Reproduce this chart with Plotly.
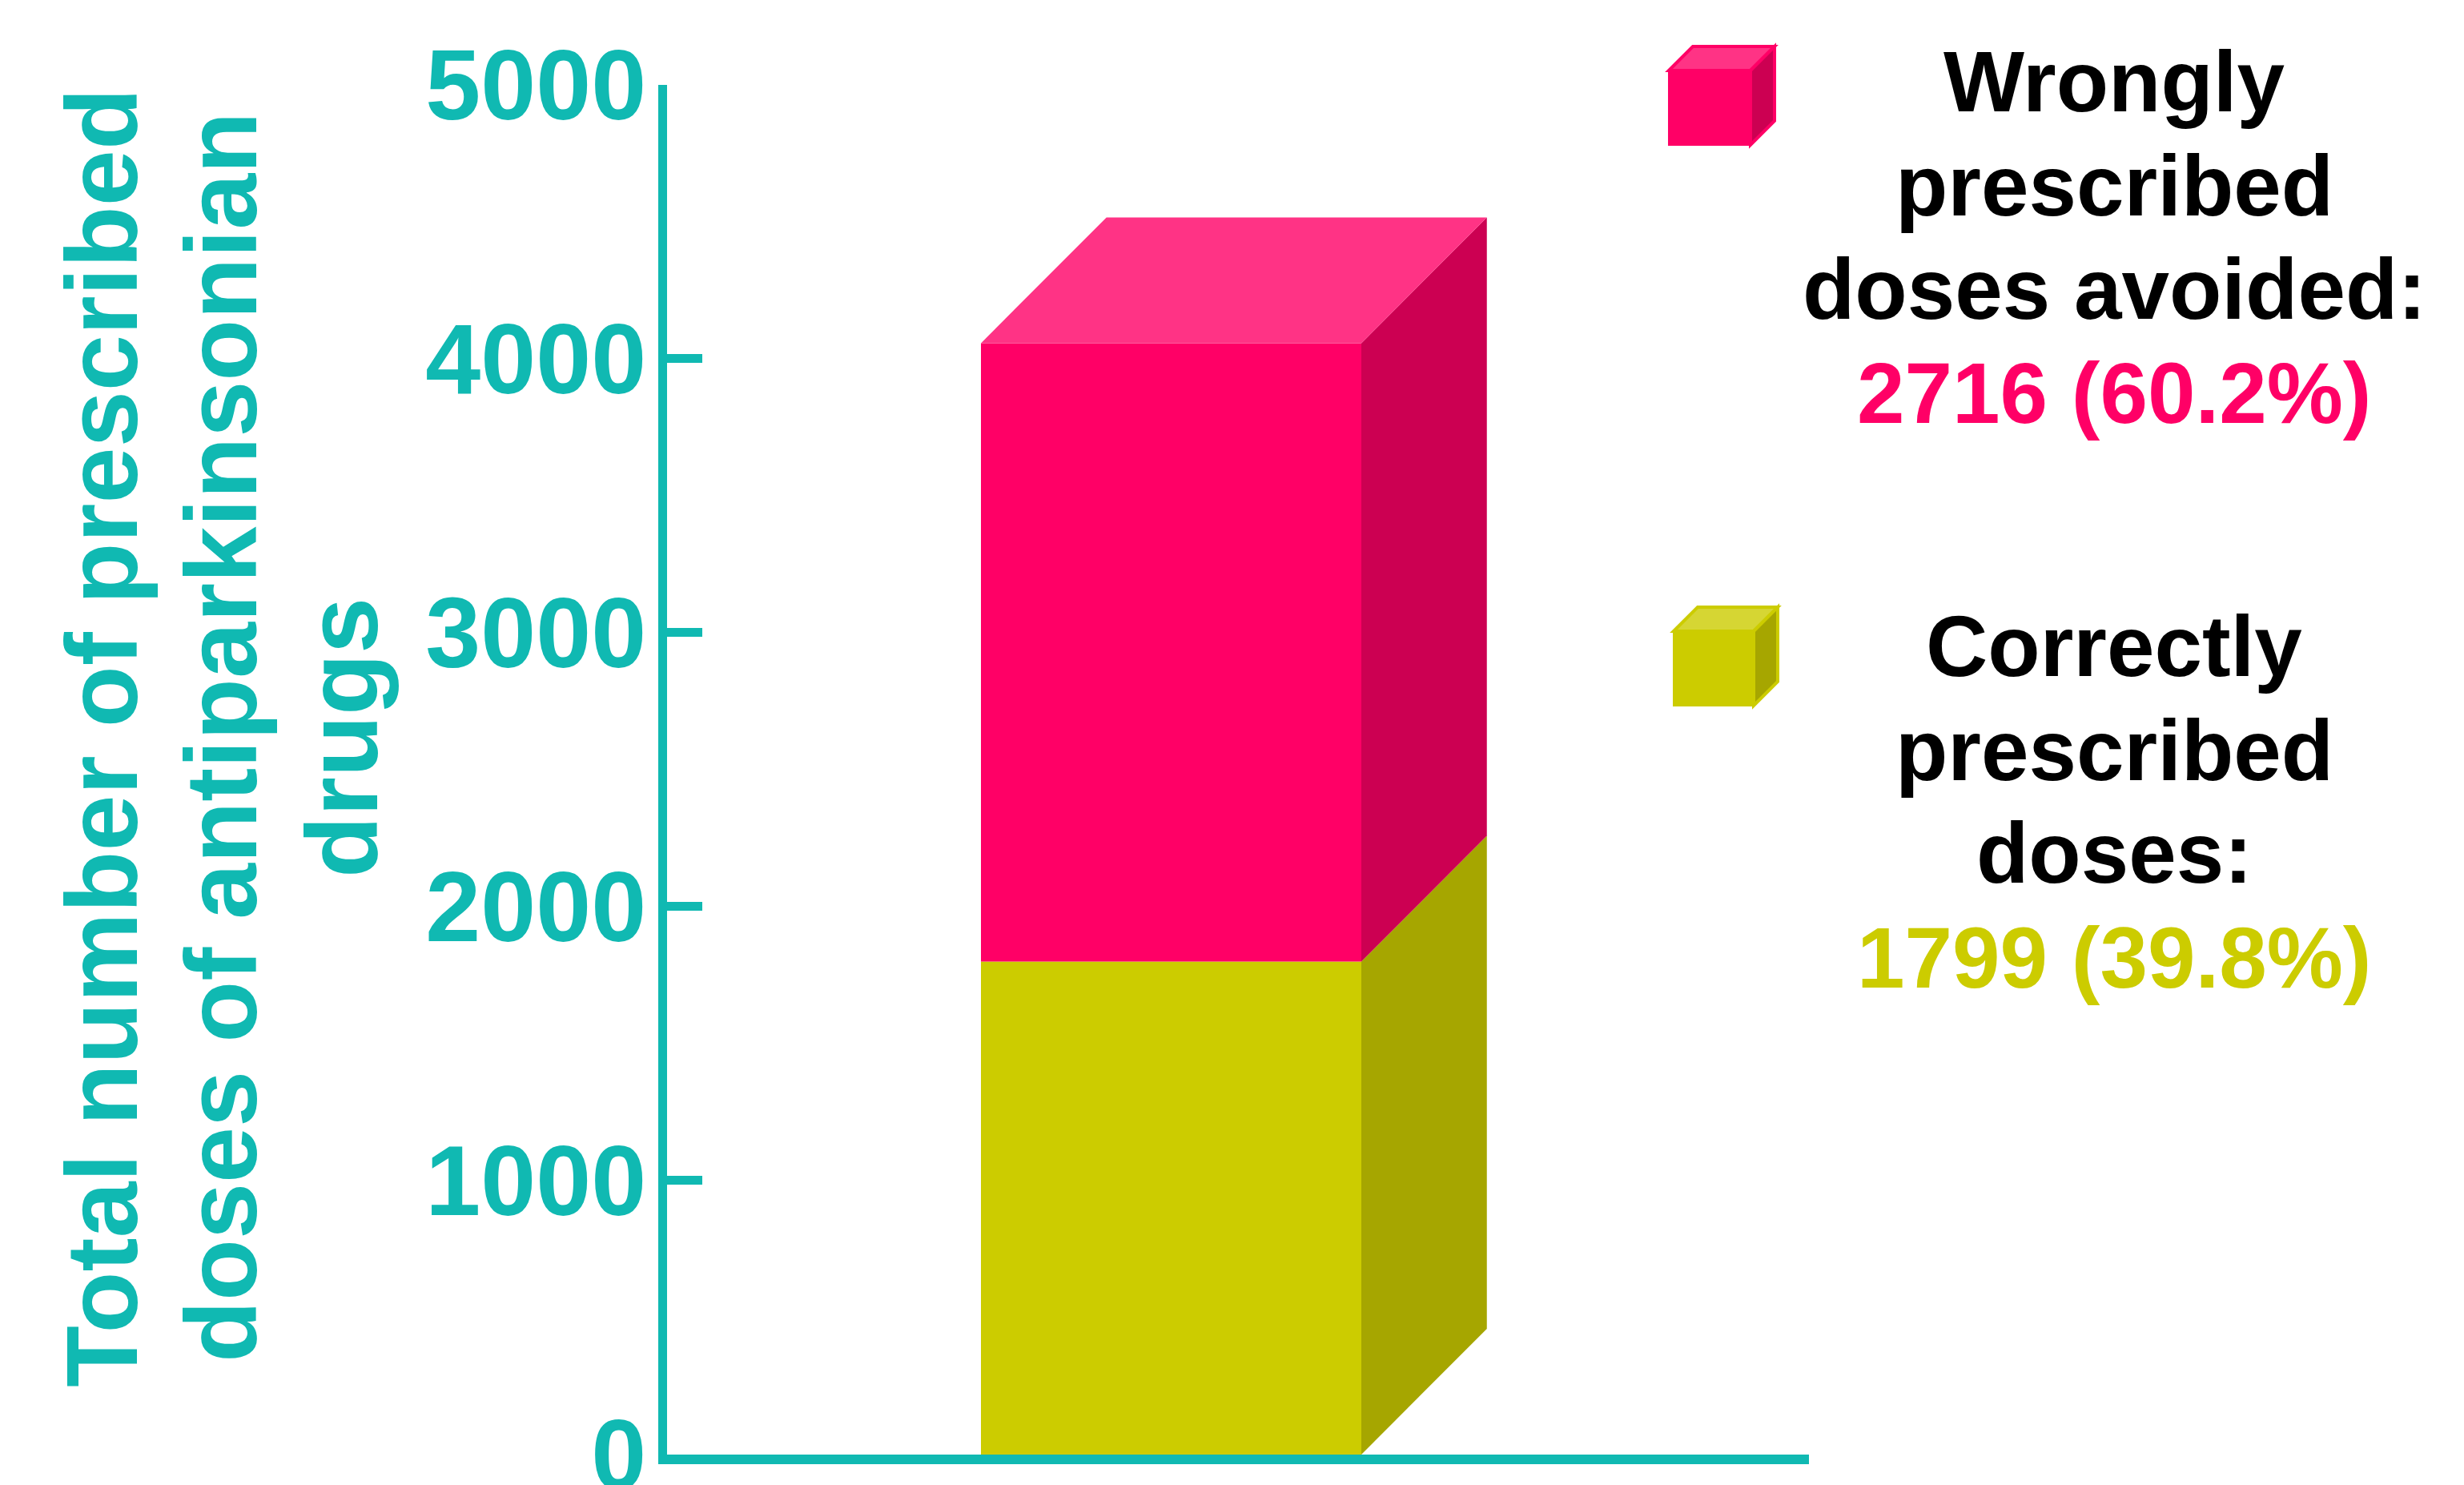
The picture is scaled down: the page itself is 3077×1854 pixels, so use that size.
import plotly.graph_objects as go

# ---- data -------------------------------------------------------------
segment_names = ["Correctly prescribed doses", "Wrongly prescribed doses avoided"]
segment_values = [1799, 2716]
segment_pcts = [39.8, 60.2]
y_tick_values = [0, 1000, 2000, 3000, 4000, 5000]

# ---- styling ----------------------------------------------------------
W, H = 3077, 1854
FONT = "Liberation Sans, Arial, sans-serif"
TEAL = "#10B9B2"
front_colors = ["#CCCC00", "#FF0066"]
side_colors = ["#A6A600", "#CC0052"]
top_colors = ["#D6D633", "#FF3385"]

BAR_X = 0.0       # bar centre on the x axis
BAR_W = 1.0       # bar width in x units
DEPTH_X = 0.33    # 3-D depth offset, x units
DEPTH_Y = 459     # 3-D depth offset, y units

# plot-area placement in pixels
PX_L, PX_R = 833, 2259
PX_T, PX_B = 105.5, 1816

fig = go.Figure()

x0 = BAR_X - BAR_W / 2
x1 = BAR_X + BAR_W / 2
total = sum(segment_values)
front_cap = total - DEPTH_Y

base = 0
for i, v in enumerate(segment_values):
    fb = base
    ft = min(base + v, front_cap)
    # right-hand side face
    fig.add_trace(go.Scatter(
        x=[x1, x1 + DEPTH_X, x1 + DEPTH_X, x1, x1],
        y=[fb, fb + DEPTH_Y, ft + DEPTH_Y, ft, fb],
        fill="toself", fillcolor=side_colors[i], mode="lines",
        line=dict(width=0, color=side_colors[i]), hoverinfo="skip",
        showlegend=False,
    ))
    # front face
    fig.add_trace(go.Scatter(
        x=[x0, x1, x1, x0, x0],
        y=[fb, fb, ft, ft, fb],
        fill="toself", fillcolor=front_colors[i], mode="lines",
        line=dict(width=0, color=front_colors[i]), name=segment_names[i],
        hoverinfo="name", showlegend=False,
    ))
    base += v

# top face of the stack
fig.add_trace(go.Scatter(
    x=[x0, x1, x1 + DEPTH_X, x0 + DEPTH_X, x0],
    y=[front_cap, front_cap, total, total, front_cap],
    fill="toself", fillcolor=top_colors[-1], mode="lines",
    line=dict(width=0, color=top_colors[-1]), hoverinfo="skip",
    showlegend=False,
))

# x range so the bar sits where wanted inside the plot area
px_per_x = 475.0
xr0 = x0 - (1225 - PX_L) / px_per_x
xr1 = xr0 + (PX_R - PX_L) / px_per_x


def pp(x, y):
    return f"{x / W:.5f},{1 - y / H:.5f}"


def path(pts):
    return "M " + " L ".join(pp(x, y) for x, y in pts) + " Z"


def cube_shapes(left, top, w, h, d, front, side, topc, edge):
    right, bottom = left + w, top + h
    return [
        dict(type="path", xref="paper", yref="paper",
             path=path([(left, top), (left + d, top - d), (right + d, top - d), (right, top)]),
             fillcolor=topc, line=dict(color=edge, width=4)),
        dict(type="path", xref="paper", yref="paper",
             path=path([(right, top), (right + d, top - d), (right + d, bottom - d), (right, bottom)]),
             fillcolor=side, line=dict(color=edge, width=4)),
        dict(type="path", xref="paper", yref="paper",
             path=path([(left, top), (right, top), (right, bottom), (left, bottom)]),
             fillcolor=front, line=dict(color=edge, width=2)),
    ]


shapes = []
shapes += cube_shapes(2084, 88, 102, 93, 30, front_colors[1], side_colors[1], top_colors[1], front_colors[1])
shapes += cube_shapes(2090, 788, 100, 93, 30, front_colors[0], side_colors[0], top_colors[0], front_colors[0])

annotations = []

# rotated y-axis title, one annotation per line
title_lines = ["Total number of prescribed", "doses of antiparkinsonian", "drugs"]
title_x = [128, 277, 428]
for txt, xc in zip(title_lines, title_x):
    annotations.append(dict(
        text=txt, textangle=-90, x=xc / W, y=1 - 921 / H,
        xref="paper", yref="paper", xanchor="center", yanchor="middle",
        showarrow=False, font=dict(family=FONT, size=126, color=TEAL, weight="bold"),
    ))

# legend text blocks
LEG_FS = 107
legend_blocks = [
    (["Wrongly", "prescribed", "doses avoided:"],
     f"{segment_values[1]} ({segment_pcts[1]}%)", front_colors[1],
     [138.7, 269.3, 397.7, 528.3]),
    (["Correctly", "prescribed", "doses:"],
     f"{segment_values[0]} ({segment_pcts[0]}%)", front_colors[0],
     [844, 974, 1102, 1233]),
]
for lines, value_txt, col, baselines in legend_blocks:
    all_lines = lines + [value_txt]
    colors = ["#000000"] * len(lines) + [col]
    for txt, c, bl in zip(all_lines, colors, baselines):
        annotations.append(dict(
            text=txt, x=2640 / W, y=1 - (bl - 0.3465 * LEG_FS) / H,
            xref="paper", yref="paper", xanchor="center", yanchor="middle",
            showarrow=False, font=dict(family=FONT, size=LEG_FS, color=c, weight="bold"),
        ))

fig.update_layout(
    width=W, height=H, template="none",
    margin=dict(l=0, r=0, t=0, b=0, pad=0),
    paper_bgcolor="white", plot_bgcolor="white",
    showlegend=False,
    xaxis=dict(
        domain=[PX_L / W, PX_R / W], range=[xr0, xr1],
        showline=True, linecolor=TEAL, linewidth=12,
        showticklabels=False, ticks="", showgrid=False, zeroline=False,
        automargin=False, fixedrange=True,
    ),
    yaxis=dict(
        domain=[1 - PX_B / H, 1 - PX_T / H], range=[0, 5000],
        tickvals=y_tick_values, ticktext=[str(v) for v in y_tick_values],
        showline=True, linecolor=TEAL, linewidth=11,
        ticks="inside", ticklen=44, tickwidth=11, tickcolor=TEAL,
        tickfont=dict(family=FONT, size=124, color=TEAL, weight="bold"),
        ticklabeloverflow="allow", ticklabelstandoff=-10,
        showgrid=False, zeroline=False, automargin=False, fixedrange=True,
    ),
    shapes=shapes,
    annotations=annotations,
)

fig.write_html("out.html")
